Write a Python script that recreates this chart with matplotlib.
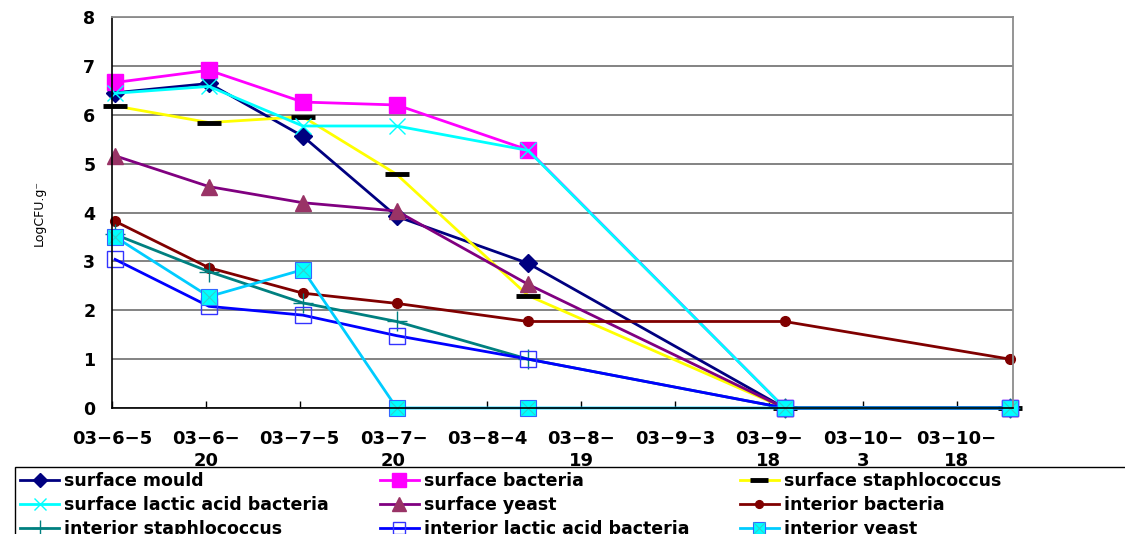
from datetime import date

import matplotlib.pyplot as plt
from matplotlib.patches import Rectangle


# =========================
# 1. Data
# =========================
START = date(2003, 6, 5)
END = date(2003, 10, 27)

sample_dates = ["2003-06-05", "2003-06-20", "2003-07-05", "2003-07-20",
                "2003-08-10", "2003-09-20", "2003-10-26"]

tick_dates = ["2003-06-05", "2003-06-20", "2003-07-05", "2003-07-20", "2003-08-04",
              "2003-08-19", "2003-09-03", "2003-09-18", "2003-10-03", "2003-10-18"]
tick_labels = ["03\u22126\u22125", "03\u22126\u2212\n20", "03\u22127\u22125", "03\u22127\u2212\n20",
               "03\u22128\u22124", "03\u22128\u2212\n19", "03\u22129\u22123", "03\u22129\u2212\n18",
               "03\u221210\u2212\n3", "03\u221210\u2212\n18"]

surface_mould = [6.45, 6.64, 5.56, 3.92, 2.96, 0, 0]
surface_bacteria = [6.66, 6.91, 6.26, 6.20, 5.28, 0, 0]
surface_staph = [6.18, 5.84, 5.96, 4.78, 2.30, 0, 0]
surface_lab = [6.44, 6.58, 5.77, 5.77, 5.27, 0, 0]
surface_yeast = [5.16, 4.53, 4.20, 4.03, 2.53, 0, 0]
interior_bacteria = [3.82, 2.87, 2.35, 2.14, 1.77, 1.77, 1.00]
interior_staph = [3.55, 2.79, 2.15, 1.77, 1.00, 0, 0]
interior_lab = [3.04, 2.08, 1.90, 1.48, 1.00, 0, 0]
interior_yeast = [3.50, 2.28, 2.83, 0, 0, 0, 0]


def day_of(s):
    return (date.fromisoformat(s) - START).days


# points sit in the middle of their day slot
x = [day_of(s) + 0.5 for s in sample_dates]
x_ticks = [day_of(s) for s in tick_dates]


# =========================
# 2. Plot
# =========================
plt.rcParams["font.family"] = ["DejaVu Sans"]
plt.rcParams["font.weight"] = "bold"

W, H = 1125, 534
fig = plt.figure(figsize=(W / 100, H / 100), dpi=100)
ax = fig.add_axes([112 / W, 1 - 408 / H, 901 / W, 391 / H])

lw = 2.0
common = dict(linewidth=lw, clip_on=False)

h_mould, = ax.plot(x, surface_mould, color="#000080", marker="D", markersize=9,
                   markerfacecolor="#000080", markeredgecolor="#000080",
                   label="surface mould", **common)
h_bact, = ax.plot(x, surface_bacteria, color="#FF00FF", marker="s", markersize=12,
                  markerfacecolor="#FF00FF", markeredgecolor="#FF00FF",
                  label="surface bacteria", **common)
h_staph, = ax.plot(x, surface_staph, color="#FFFF00", marker="_", markersize=17,
                   markeredgewidth=3.5, markeredgecolor="black",
                   label="surface staphlococcus", **common)
h_lab, = ax.plot(x, surface_lab, color="#00FFFF", marker="x", markersize=11,
                 markeredgewidth=1.0, markeredgecolor="#00FFFF",
                 label="surface lactic acid bacteria", **common)
h_yeast, = ax.plot(x, surface_yeast, color="#800080", marker="^", markersize=12,
                   markerfacecolor="#993366", markeredgecolor="#993366",
                   label="surface yeast", **common)
h_ibact, = ax.plot(x, interior_bacteria, color="#800000", marker="o", markersize=7,
                   markerfacecolor="#800000", markeredgecolor="#800000",
                   label="interior bacteria", **common)
h_istaph, = ax.plot(x, interior_staph, color="#008080", marker="+", markersize=14,
                    markeredgewidth=1.0, markeredgecolor="#008080",
                    label="interior staphlococcus", **common)
h_ilab, = ax.plot(x, interior_lab, color="#0000FF", marker="s", markersize=11,
                  markerfacecolor="none", markeredgecolor="#3333FF", markeredgewidth=1.0,
                  label="interior lactic acid bacteria", **common)
h_iyeast, = ax.plot(x, interior_yeast, color="#00CCFF", marker="s", markersize=11,
                    markerfacecolor="#00FFFF", markeredgecolor="#3366FF", markeredgewidth=0.8,
                    label="interior yeast", **common)
h_iyeast_x, = ax.plot(x, interior_yeast, linestyle="none", marker="x", markersize=10,
                      markeredgewidth=0.8, markeredgecolor="#33CCCC", clip_on=False)

ax.set_xlim(0, (END - START).days)
ax.set_ylim(0, 8)
ax.set_yticks(range(0, 9))
ax.set_xticks(x_ticks)
ax.set_xticklabels(tick_labels, linespacing=1.3)

ax.grid(True, axis="y", color="#7a7a7a", linewidth=1.3)
ax.set_axisbelow(True)

ax.tick_params(axis="x", direction="in", length=5, width=1, pad=16, labelsize=13)
ax.tick_params(axis="y", length=0, pad=12, labelsize=12.5)

for side in ["left", "bottom"]:
    ax.spines[side].set_color("black")
    ax.spines[side].set_linewidth(1.2)
for side in ["top", "right"]:
    ax.spines[side].set_color("#8c8c8c")
    ax.spines[side].set_linewidth(1.3)

ax.set_ylabel("LogCFU.g\u207b", fontsize=9)
ax.yaxis.set_label_coords(-0.073, 0.5)


# =========================
# 3. Legend (row by row, three columns)
# =========================
handles = [h_mould, h_bact, h_staph,
           h_lab, h_yeast, h_ibact,
           h_istaph, h_ilab, (h_iyeast, h_iyeast_x)]
labels = ["surface mould", "surface bacteria", "surface staphlococcus",
          "surface lactic acid bacteria", "surface yeast", "interior bacteria",
          "interior staphlococcus", "interior lactic acid bacteria", "interior yeast"]
order = [0, 3, 6, 1, 4, 7, 2, 5, 8]

leg = fig.legend([handles[i] for i in order], [labels[i] for i in order],
                 loc="upper left", bbox_to_anchor=(15 / W, 1 - 467 / H),
                 ncol=3, fontsize=12.5, frameon=False,
                 borderaxespad=0, borderpad=0.3, handlelength=2.25, handletextpad=0.3,
                 labelspacing=0.35, columnspacing=2.9, markerscale=0.8)

# legend box runs off the right edge of the figure
fig.add_artist(Rectangle((15 / W, -0.05), 1.1, 1 - 467 / H + 0.05,
                         transform=fig.transFigure, fill=False,
                         edgecolor="black", linewidth=1.0))

plt.savefig("out.png", dpi=100)
plt.close()
